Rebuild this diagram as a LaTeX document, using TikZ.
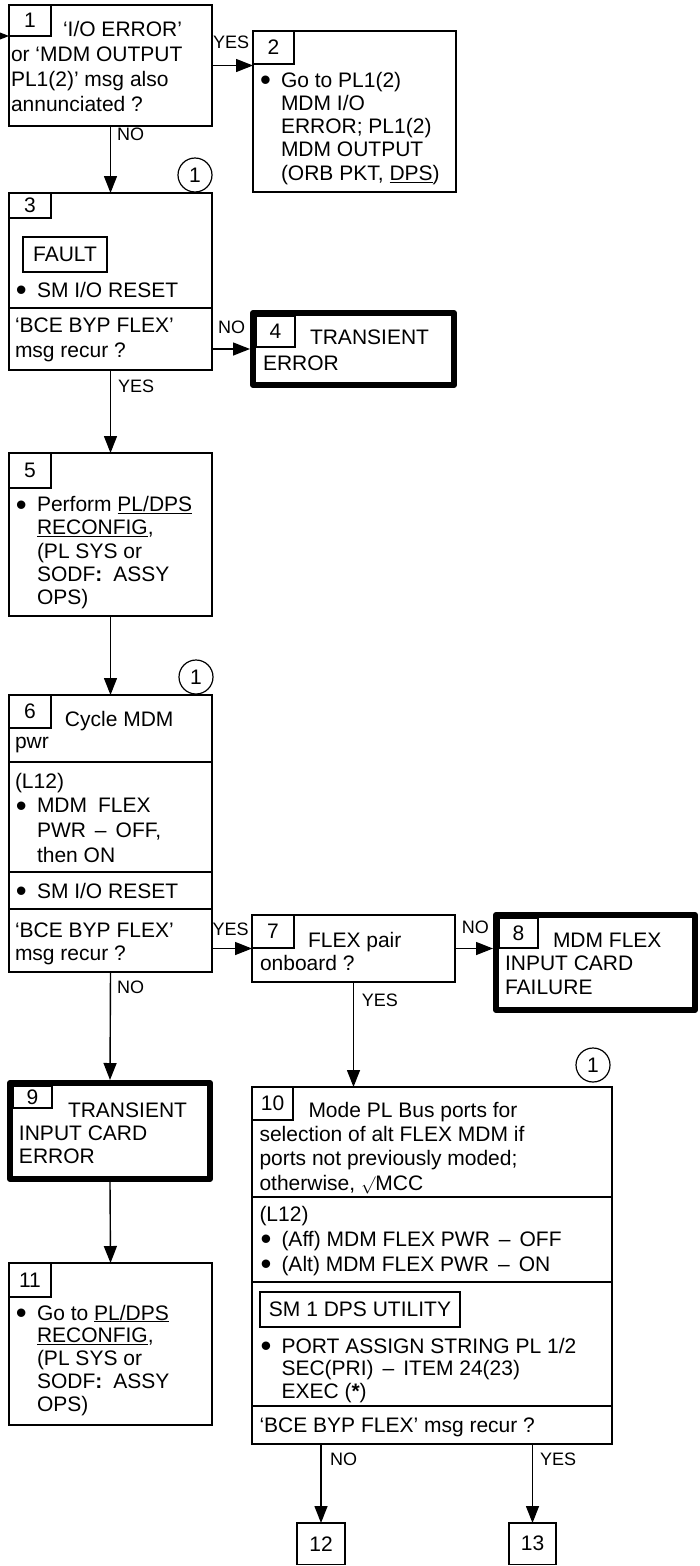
\documentclass[tikz,border=0pt]{standalone}
\usepackage{fontspec}
\setmainfont{Liberation Sans}
\usetikzlibrary{arrows.meta}
\newcommand{\fl}{\rule{0pt}{16pt}}
\newcommand{\bul}{\makebox[22pt][l]{\hspace*{1pt}{\fontsize{31}{31}\selectfont\raisebox{-3.5pt}{•}}}}
\newcommand{\ind}{\hspace*{22pt}}
\newcommand{\dsh}{\hspace{9pt}–\hspace{9pt}}
\newcommand{\chk}{{\fontsize{17}{17}\selectfont$\surd$}}
\newcommand{\mf}[1]{\fontsize{21}{#1}\selectfont}
\begin{document}
\begin{tikzpicture}[x=1pt,y=-1pt,
  bx/.style={draw,line width=1.4pt,inner sep=0pt,outer sep=0pt,anchor=north west},
  thk/.style={draw,line width=6pt,inner sep=0pt,outer sep=3pt,anchor=north west,line join=round},
  nb/.style={draw,line width=1.4pt,inner sep=0pt,outer sep=0pt,anchor=north west,font=\mf{25}},
  tx/.style={inner sep=0pt,outer sep=0pt,anchor=north west,align=left},
  lbl/.style={inner sep=0pt,anchor=base west,font=\fontsize{18}{18}\selectfont},
  arr/.style={line width=1.4pt,-{Triangle[length=17pt,width=13pt]}},
  ln/.style={line width=1.4pt},
  circ/.style={draw,circle,line width=1.2pt,minimum size=34pt,inner sep=0pt,font=\mf{25}}]
\useasboundingbox (0,0) rectangle (699,1566);

% boxes
\node[bx,minimum width=203,minimum height=121] (b1) at (9,5) {};
\node[bx,minimum width=203,minimum height=161] (b2) at (253,31) {};
\node[bx,minimum width=203,minimum height=177] (b3) at (9,193) {};
\node[thk,minimum width=201,minimum height=72] (b4) at (250,310) {};
\node[bx,minimum width=203,minimum height=163] (b5) at (9,453) {};
\node[bx,minimum width=203,minimum height=277] (b6) at (9,695) {};
\node[bx,minimum width=203,minimum height=67] (b7) at (252,915) {};
\node[thk,minimum width=199,minimum height=95] (b8) at (493,912) {};
\node[thk,minimum width=200,minimum height=96] (b9) at (7,1080) {};
\node[bx,minimum width=360,minimum height=357] (b10) at (252,1087) {};
\node[bx,minimum width=203,minimum height=162] (b11) at (9,1263) {};
\node[bx,minimum width=48,minimum height=41.5,font=\mf{25}] (b12) at (297,1523) {};
\node[bx,minimum width=47,minimum height=41.5,font=\mf{25}] (b13) at (509,1523) {};
\node[font=\mf{25}] (t12) at (b12.center) {12};
\node[font=\mf{25}] (t13) at (b13.center) {13};

% number boxes
\node[nb,minimum width=42,minimum height=31] (n1) at (b1.north west) {1};
\node[nb,minimum width=41,minimum height=33] (n2) at (b2.north west) {2};
\node[nb,minimum width=42,minimum height=25] (n3) at (b3.north west) {3};
\node[nb,minimum width=39,minimum height=31] (n4) at (256,316) {4};
\node[nb,minimum width=42,minimum height=35] (n5) at (b5.north west) {5};
\node[nb,minimum width=42,minimum height=33] (n6) at (b6.north west) {6};
\node[nb,minimum width=42,minimum height=33] (n7) at (b7.north west) {7};
\node[nb,minimum width=39,minimum height=30] (n8) at (499,918) {8};
\node[nb,minimum width=39,minimum height=22] (n9) at (13,1086) {9};
\node[nb,minimum width=41,minimum height=33] (n10) at (b10.north west) {10};
\node[nb,minimum width=42,minimum height=34] (n11) at (b11.north west) {11};

% separators
\draw[ln] (9,308) -- (212,308);
\draw[ln] (9,762) -- (212,762);
\draw[ln] (9,872) -- (212,872);
\draw[ln] (9,909) -- (212,909);
\draw[ln] (252,1197) -- (612,1197);
\draw[ln] (252,1282) -- (612,1282);
\draw[ln] (252,1406) -- (612,1406);

% inner boxes
\node[bx,minimum width=84,minimum height=35] (f3) at (23,237) {};
\node[font=\mf{25}] (f3t) at (f3.center) {FAULT};
\node[bx,minimum width=200,minimum height=35] (u10) at (260,1292) {};
\node[font=\mf{25}] (u10t) at (u10.center) {SM 1 DPS UTILITY};

% circles
\node[circ] (c1) at (195,175) {1};
\node[circ] (c2) at (196,677) {1};
\node[circ] (c3) at (593,1065) {1};

% texts
\node[tx,font=\mf{25}] (t1) at (11,20) {\fl\hspace*{52pt}‘I/O ERROR’\\or ‘MDM OUTPUT\\PL1(2)’ msg also\\annunciated ?};
\node[tx,font=\mf{23.2}] (t2) at (259,71.3) {\fl\bul Go to PL1(2)\\\ind MDM I/O\\\ind ERROR; PL1(2)\\\ind MDM OUTPUT\\\ind (ORB PKT, \underline{DPS})};
\node[tx,font=\mf{25}] (t3b) at (15,281) {\fl\bul SM I/O RESET};
\node[tx,font=\mf{25}] (t3c) at (15,316) {\fl‘BCE BYP FLEX’\\msg recur ?};
\node[tx,font=\mf{26}] (t4) at (263,328) {\fl\hspace*{47pt}TRANSIENT\\ERROR};
\node[tx,font=\mf{23.2}] (t5) at (15,495.7) {\fl\bul Perform \underline{PL/DPS}\\\ind\underline{RECONFIG},\\\ind (PL SYS or\\\ind SODF\textbf{:}\hspace{11pt}ASSY\\\ind OPS)};
\node[tx,font=\mf{21.7}] (t6a) at (15,710.7) {\fl\hspace*{50pt}Cycle MDM\\pwr};
\node[tx,font=\mf{24.7}] (t6b) at (15,772) {\fl(L12)\\\bul MDM\hspace{11pt}FLEX\\\ind PWR\dsh OFF,\\\ind then ON};
\node[tx,font=\mf{25}] (t6c) at (15,882) {\fl\bul SM I/O RESET};
\node[tx,font=\mf{23.3}] (t6d) at (15,921) {\fl‘BCE BYP FLEX’\\msg recur ?};
\node[tx,font=\mf{23.3}] (t7) at (260,931) {\fl\hspace*{48pt}FLEX pair\\onboard ?};
\node[tx,font=\mf{23.5}] (t8) at (505,931) {\fl\hspace*{48pt}MDM FLEX\\INPUT CARD\\FAILURE};
\node[tx,font=\mf{23.3}] (t9) at (19,1101) {\fl\hspace*{49pt}TRANSIENT\\INPUT CARD\\ERROR};
\node[tx,font=\mf{24.4}] (t10a) at (259.5,1101) {\fl\hspace*{49pt}Mode PL Bus ports for\\selection of alt FLEX MDM if\\ports not previously moded;\\otherwise, \chk MCC};
\node[tx,font=\mf{25.2}] (t10b) at (259.5,1205) {\fl(L12)\\\bul (Aff) MDM FLEX PWR\dsh OFF\\\bul (Alt) MDM FLEX PWR\dsh ON};
\node[tx,font=\mf{22.5}] (t10d) at (259.5,1337) {\fl\bul PORT ASSIGN STRING PL 1/2\\\ind SEC(PRI)\dsh ITEM 24(23)\\\ind EXEC ({\bfseries *})};
\node[tx,font=\mf{25}] (t10e) at (259.5,1416) {\fl‘BCE BYP FLEX’ msg recur ?};
\node[tx,font=\mf{22.9}] (t11) at (15,1304) {\fl\bul Go to \underline{PL/DPS}\\\ind\underline{RECONFIG},\\\ind (PL SYS or\\\ind SODF\textbf{:}\hspace{11pt}ASSY\\\ind OPS)};

% connectors
\coordinate (in1) at (0,36);
\draw[arr] (in1) -- (in1 -| b1.west);
\draw[arr] (b1.east) -- (b1.east -| b2.west);
\draw[arr] (b1.south) -- (b3.north);
\draw[arr] (b3.east |- b4.west) -- (b4.west);
\draw[arr] (b3.south) -- (b5.north);
\draw[arr] (b5.south) -- (b6.north);
\draw[arr] (b6.east |- b7.west) -- (b7.west);
\draw[arr] (b7.east) -- (b7.east -| b8.west);
\draw[arr] (b7.south) -- (b7.south |- b10.north);
\draw[arr] (b6.south) -- (b9.north);
\draw[arr] (b9.south) -- (b11.north);
\draw[arr] (b12.north |- b10.south) -- (b12.north);
\draw[arr] (b13.north |- b10.south) -- (b13.north);

% labels
\node[lbl] (l1) at (213,48) {YES};
\node[lbl] (l2) at (117,140) {NO};
\node[lbl] (l3) at (218,333) {NO};
\node[lbl] (l4) at (118,392) {YES};
\node[lbl] (l5) at (212.5,935) {YES};
\node[lbl] (l6) at (117,993) {NO};
\node[lbl] (l7) at (461.7,933) {NO};
\node[lbl] (l8) at (361.7,1006.7) {YES};
\node[lbl] (l9) at (330,1465) {NO};
\node[lbl] (l10) at (540,1465) {YES};
\end{tikzpicture}
\end{document}
